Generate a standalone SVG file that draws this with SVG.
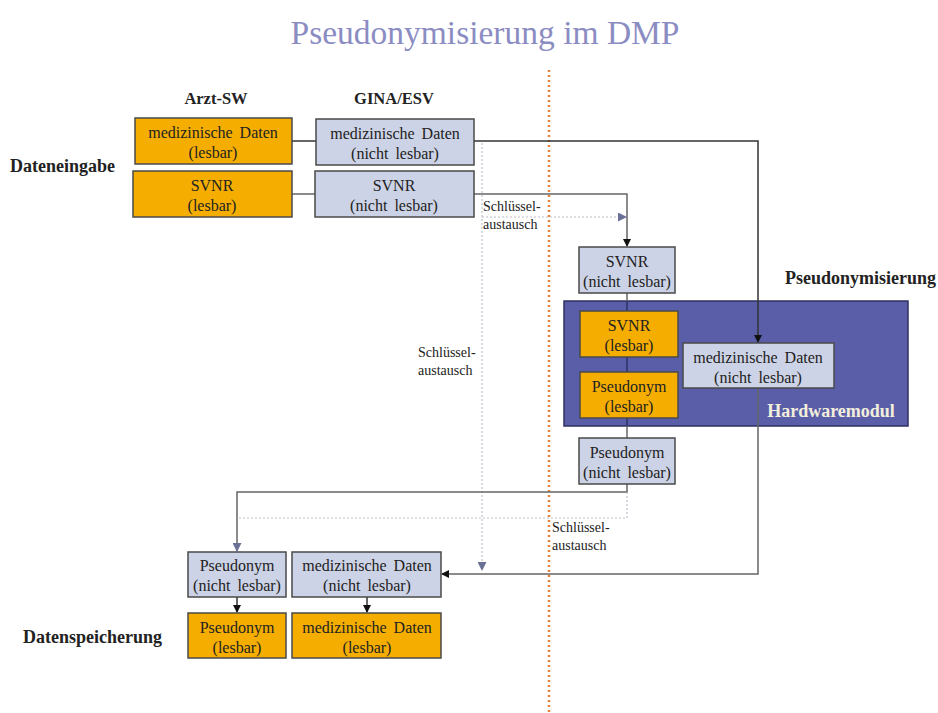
<svg xmlns="http://www.w3.org/2000/svg" width="938" height="713" viewBox="0 0 938 713">
<style>
text{font-family:'Liberation Serif','DejaVu Serif',serif;fill:#222}
.bt{font-size:16px;text-anchor:middle;word-spacing:3px}
.hd{font-size:18px;font-weight:bold}
.ch{font-size:16.5px;font-weight:bold;text-anchor:middle}
.sm{font-size:14px}
.or{fill:#f5ae00;stroke:#4a4a4a;stroke-width:1.5}
.lb{fill:#cdd3e6;stroke:#4a4a4a;stroke-width:1.5}
.ln{fill:none;stroke:#333;stroke-width:1.5}
.gl{fill:none;stroke:#666;stroke-width:1.5}
.nv{fill:none;stroke:#2e3266;stroke-width:1.5}
.dt{fill:none;stroke:#bcc0cc;stroke-width:1.2;stroke-dasharray:2 2}
</style>
<defs>
<marker id="ak" markerWidth="8" markerHeight="8" refX="7" refY="4" orient="auto" markerUnits="userSpaceOnUse"><path d="M0,0 L8,4 L0,8 z" fill="#111"/></marker>
<marker id="ab" markerWidth="9" markerHeight="9" refX="8" refY="4.5" orient="auto" markerUnits="userSpaceOnUse"><path d="M0,0 L9,4.5 L0,9 z" fill="#6b7196"/></marker>
</defs>
<rect width="938" height="713" fill="#fff"/>
<text x="485" y="44" font-size="33.5" text-anchor="middle" style="fill:#8b8cc2">Pseudonymisierung im DMP</text>
<line x1="549" y1="70" x2="549" y2="713" stroke="#e8823a" stroke-width="2.5" stroke-dasharray="2 3"/>
<text class="ch" x="216" y="104">Arzt-SW</text>
<text class="ch" x="394" y="104">GINA/ESV</text>
<text class="hd" x="10" y="172">Dateneingabe</text>
<text class="hd" x="785" y="284">Pseudonymisierung</text>
<text class="hd" x="23" y="643">Datenspeicherung</text>
<g id="hwmodul">
<rect x="564" y="301" width="344" height="125" fill="#5a5ea8" stroke="#2e3060" stroke-width="1.5"/>
<text x="831" y="417" font-size="18" font-weight="bold" text-anchor="middle" style="fill:#f2efdc">Hardwaremodul</text>
</g>
<g id="connectors">
<line class="ln" x1="292" y1="141" x2="316" y2="141"/>
<line class="gl" x1="292" y1="194" x2="315" y2="194"/>
<polyline class="ln" points="474,141 758,141 758,342" marker-end="url(#ak)"/>
<polyline class="gl" points="474,194 627,194 627,246" marker-end="url(#ak)"/>
<line class="dt" x1="482" y1="143" x2="482" y2="570" marker-end="url(#ab)"/>
<line class="dt" x1="482" y1="217" x2="626" y2="217" marker-end="url(#ab)"/>
<line class="gl" x1="627" y1="293" x2="627" y2="301"/>
<line class="nv" x1="627" y1="301" x2="627" y2="311"/>
<line class="nv" x1="627" y1="357" x2="627" y2="372"/>
<line class="nv" x1="627" y1="418" x2="627" y2="426"/>
<line class="gl" x1="627" y1="426" x2="627" y2="439"/>
<polyline class="gl" points="627,484 627,492 237,492 237,551" marker-end="url(#ab)"/>
<polyline class="dt" points="627,492 627,518 237,518"/>
<polyline class="gl" points="758,388 758,574 442,574" marker-end="url(#ak)"/>
<line class="ln" x1="237" y1="597" x2="237" y2="612" marker-end="url(#ak)"/>
<line class="ln" x1="367" y1="597" x2="367" y2="612" marker-end="url(#ak)"/>
</g>
<text class="sm" x="483" y="211">Schlüssel-</text>
<text class="sm" x="483" y="229">austausch</text>
<text class="sm" x="418" y="357">Schlüssel-</text>
<text class="sm" x="418" y="375">austausch</text>
<text class="sm" x="552" y="532">Schlüssel-</text>
<text class="sm" x="552" y="550">austausch</text>
<g id="arzt-med"><rect class="or" x="135" y="118" width="157" height="46"/><text class="bt" x="213" y="138">medizinische Daten</text><text class="bt" x="213" y="158">(lesbar)</text></g>
<g id="arzt-svnr"><rect class="or" x="133" y="171" width="159" height="46"/><text class="bt" x="212" y="191">SVNR</text><text class="bt" x="212" y="211">(lesbar)</text></g>
<g id="gina-med"><rect class="lb" x="316" y="119" width="158" height="46"/><text class="bt" x="395" y="139">medizinische Daten</text><text class="bt" x="395" y="159">(nicht lesbar)</text></g>
<g id="gina-svnr"><rect class="lb" x="315" y="171" width="159" height="46"/><text class="bt" x="394" y="191">SVNR</text><text class="bt" x="394" y="211">(nicht lesbar)</text></g>
<g id="ps-svnr"><rect class="lb" x="579" y="247" width="96" height="46"/><text class="bt" x="627" y="267">SVNR</text><text class="bt" x="627" y="287">(nicht lesbar)</text></g>
<g id="hw-svnr"><rect class="or" x="580" y="311" width="98" height="46"/><text class="bt" x="629" y="331">SVNR</text><text class="bt" x="629" y="351">(lesbar)</text></g>
<g id="hw-pseudo"><rect class="or" x="580" y="372" width="98" height="46"/><text class="bt" x="629" y="392">Pseudonym</text><text class="bt" x="629" y="412">(lesbar)</text></g>
<g id="hw-med"><rect class="lb" x="683" y="343" width="151" height="45"/><text class="bt" x="758" y="363">medizinische Daten</text><text class="bt" x="758" y="383">(nicht lesbar)</text></g>
<g id="ps-pseudo"><rect class="lb" x="579" y="438" width="96" height="46"/><text class="bt" x="627" y="458">Pseudonym</text><text class="bt" x="627" y="478">(nicht lesbar)</text></g>
<g id="sp-pseudo-nl"><rect class="lb" x="188" y="552" width="98" height="45"/><text class="bt" x="237" y="571">Pseudonym</text><text class="bt" x="237" y="591">(nicht lesbar)</text></g>
<g id="sp-med-nl"><rect class="lb" x="292" y="552" width="149" height="45"/><text class="bt" x="367" y="571">medizinische Daten</text><text class="bt" x="367" y="591">(nicht lesbar)</text></g>
<g id="sp-pseudo"><rect class="or" x="188" y="613" width="98" height="45"/><text class="bt" x="237" y="633">Pseudonym</text><text class="bt" x="237" y="653">(lesbar)</text></g>
<g id="sp-med"><rect class="or" x="292" y="613" width="149" height="45"/><text class="bt" x="367" y="633">medizinische Daten</text><text class="bt" x="367" y="653">(lesbar)</text></g>
</svg>
